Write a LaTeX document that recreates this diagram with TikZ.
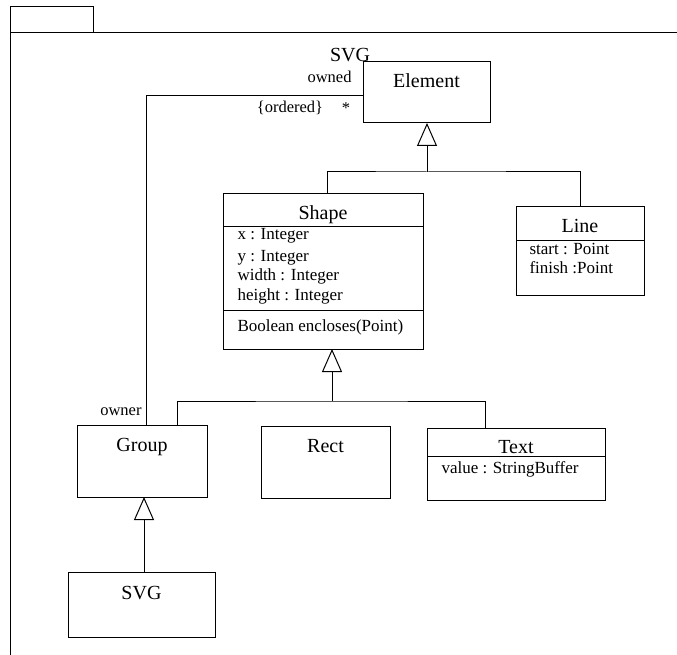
\documentclass[tikz,border=0pt]{standalone}
\usepackage{fontspec}
\setmainfont{Liberation Serif}
\usetikzlibrary{arrows.meta}
\begin{document}
\begin{tikzpicture}[x=1pt,y=-1pt,line width=1pt,
  box/.style={draw,rectangle,inner sep=0pt,outer sep=0pt,anchor=north west},
  nm/.style={font=\fontsize{20}{24}\selectfont,anchor=base,inner sep=0pt},
  attr/.style={font=\fontsize{17}{20}\selectfont,anchor=base west,inner sep=0pt},
  lbl/.style={font=\fontsize{16.5}{19}\selectfont,inner sep=0pt},
  gen/.style={-{Triangle[open,length=23pt,width=20pt]}},
  conn/.style={line width=1pt}]
\useasboundingbox (0,0) rectangle (677,655);
% package frame
\draw (10,655) -- (10,33) -- (677,33);
\draw (10,7) rectangle (93,33);
\node[nm] (pkgname) at (350,62) {SVG};
% classes
\node[box,minimum width=127pt,minimum height=61pt] (element) at (363,62) {};
\node[box,minimum width=200pt,minimum height=155pt] (shape) at (223,194) {};
\node[box,minimum width=128pt,minimum height=88pt] (line) at (516,207) {};
\node[box,minimum width=130pt,minimum height=72pt] (group) at (77,425) {};
\node[box,minimum width=129pt,minimum height=72pt] (rect) at (261,426) {};
\node[box,minimum width=178pt,minimum height=72pt] (text) at (427,428) {};
\node[box,minimum width=147pt,minimum height=65pt] (svg) at (68,572) {};
% compartments
\draw (shape.west |- 0,226) -- (shape.east |- 0,226);
\draw (shape.west |- 0,310) -- (shape.east |- 0,310);
\draw (line.west |- 0,240) -- (line.east |- 0,240);
\draw (text.west |- 0,456) -- (text.east |- 0,456);
% names
\node[nm] (elementname) at (426.5,88) {Element};
\node[nm] (shapename) at (323,219) {Shape};
\node[nm] (linename) at (580,233) {Line};
\node[nm] (groupname) at (142,451) {Group};
\node[nm] (rectname) at (325.5,452) {Rect};
\node[nm] (textname) at (516,453) {Text};
\node[nm] (svgname) at (141.5,599) {SVG};
% attributes and operations
\node[attr] (ax) at (237,240) {x : Integer};
\node[attr] (ay) at (237,261) {y : Integer};
\node[attr] (aw) at (237,280) {width : Integer};
\node[attr] (ah) at (237,300) {height : Integer};
\node[attr] (op) at (237,331) {Boolean encloses(Point)};
\node[attr] (lstart) at (529,254) {start : Point};
\node[attr] (lfinish) at (529,273) {finish :Point};
\node[attr] (tvalue) at (441,473) {value : StringBuffer};
% association
\draw[conn] (element.west |- 0,96) -| (group.north -| 146,0);
\node[lbl,anchor=base east] (owned) at (352,83) {owned};
\node[lbl,anchor=base] (ordered) at (290,113) {\{ordered\}};
\node[lbl,anchor=base] (star) at (346,114) {*};
\node[lbl,anchor=base east] (owner) at (142,415) {owner};
% generalizations
\coordinate (j1) at (427,172);
\draw[conn,gen] (j1) -- (j1 |- element.south);
\draw[conn] ([xshift=4pt]shape.north) |- (j1) -| (line.north);
\coordinate (j2) at (332,401);
\draw[conn,gen] (j2) -- (j2 |- shape.south);
\draw[conn] (group.north -| 177,0) |- (j2) -| (text.north -| 485,0);
\draw[conn,gen] ([xshift=2.5pt]svg.north) -- ([xshift=2.5pt]svg.north |- group.south);
\end{tikzpicture}
\end{document}
